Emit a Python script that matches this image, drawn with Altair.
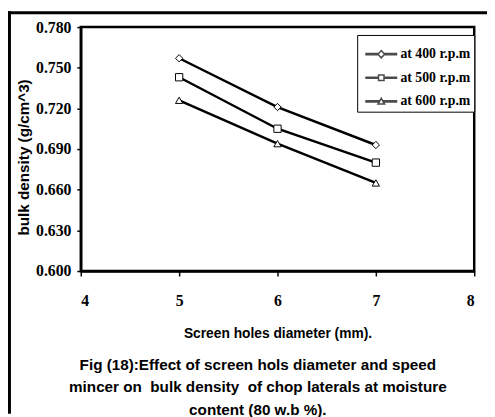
import altair as alt
import pandas as pd

diameters = [5, 6, 7]
series = ["at 400 r.p.m", "at 500 r.p.m", "at 600 r.p.m"]
rpm400 = [0.757, 0.721, 0.693]
rpm500 = [0.743, 0.705, 0.680]
rpm600 = [0.726, 0.694, 0.665]
x_ticks = [4, 5, 6, 7, 8]
y_ticks = [0.600, 0.630, 0.660, 0.690, 0.720, 0.750, 0.780]
caption = [
    "Fig (18):Effect of screen hols diameter and speed",
    "mincer on\u00a0 bulk density\u00a0 of chop laterals at moisture",
    "content (80 w.b %).",
]

rows = []
for name, vals in zip(series, [rpm400, rpm500, rpm600]):
    for d, v in zip(diameters, vals):
        rows.append({"d": d, "v": v, "s": name})
df = pd.DataFrame(rows)

SERIF = "Liberation Serif"
SANS = "Liberation Sans"

x = alt.X("d:Q", scale=alt.Scale(domain=[4, 8], nice=False, zero=False),
          axis=alt.Axis(values=x_ticks, format="d", title="Screen holes diameter (mm).",
                        labelFont=SERIF, labelFontSize=16, labelFontWeight="bold",
                        labelPadding=17, tickSize=5, titleFont=SANS, titleFontSize=14,
                        titleFontWeight="bold", titlePadding=19))
y = alt.Y("v:Q", scale=alt.Scale(domain=[0.6, 0.78], nice=False, zero=False),
          axis=alt.Axis(values=y_ticks, format=".3f", title="bulk density (g/cm^3)",
                        labelFont=SERIF, labelFontSize=16, labelFontWeight="bold",
                        labelPadding=6, tickSize=4, titleFont=SANS, titleFontSize=15.5,
                        titleFontWeight="bold", titlePadding=4, titleY=132))

# legend-only layer: custom line+marker glyphs; its own marks are shifted out of the
# clipped plot area so only the legend shows them
seg = "M-1,-0.04L{a},-0.04L{a},0.04L-1,0.04Z M{b},-0.04L1,-0.04L1,0.04L{b},0.04Z "
leg_paths = [
    seg.format(a=-0.22, b=0.22) + "M-0.22,0L0,-0.24L0.22,0L0,0.24Z",
    seg.format(a=-0.18, b=0.18) + "M-0.18,-0.18L0.18,-0.18L0.18,0.18L-0.18,0.18Z",
    seg.format(a=-0.12, b=0.12) + "M-0.22,0.18L0,-0.2L0.22,0.18Z",
]
leg = alt.Chart(df).mark_point(filled=True, fill="white", stroke="black",
                               strokeWidth=1, clip=True).encode(
    x=x, y=y, xOffset=alt.value(-5000),
    shape=alt.Shape("s:N", scale=alt.Scale(domain=series, range=leg_paths),
                    legend=alt.Legend(title=None, orient="none", legendX=281, legendY=8,
                                      symbolSize=961, symbolOffset=5, labelFont=SERIF,
                                      labelFontSize=14, labelFontWeight="bold",
                                      labelColor="black", labelOffset=3, labelLimit=300,
                                      padding=3, rowPadding=0, strokeColor="black",
                                      fillColor="white")))

lines = alt.Chart(df).mark_line(color="black", strokeWidth=2.5).encode(
    x=x, y=y, detail="s:N")

pts = alt.Chart(df).mark_point(filled=True, fill="white", stroke="black",
                               strokeWidth=1, size=55, opacity=1).encode(
    x=x, y=y,
    shape=alt.Shape("s:N", scale=alt.Scale(domain=series,
                                            range=["diamond", "square", "triangle-up"]),
                    legend=None))

frame_df = pd.DataFrame({"k": [0]})
left_rule = alt.Chart(frame_df).mark_rule(color="black", strokeWidth=3).encode(
    x=alt.value(-72.5), y=alt.value(-16), y2=alt.value(393))
top_rule = alt.Chart(frame_df).mark_rule(color="black", strokeWidth=3).encode(
    x=alt.value(-74), x2=alt.value(413), y=alt.value(-14.5))

chart = alt.layer(leg, lines, pts, left_rule, top_rule).resolve_scale(
    shape="independent"
).properties(
    width=400, height=248,
    autosize=alt.AutoSizeParams(type="none"),
    padding={"left": 74, "top": 16, "right": 13, "bottom": 145},
    title=alt.TitleParams(text=caption, orient="bottom", anchor="middle", frame="group",
                          font=SANS, fontSize=15.5, fontWeight="bold", lineHeight=23,
                          offset=-58, dx=-20, color="black"),
).configure_view(stroke="black", strokeWidth=2.5).configure_axis(
    domainColor="black", domainWidth=2.5, tickColor="black", tickWidth=1.5,
    grid=False, labelColor="black", titleColor="black")

chart.save("out.html", embed_options={"renderer": "svg", "actions": False})
